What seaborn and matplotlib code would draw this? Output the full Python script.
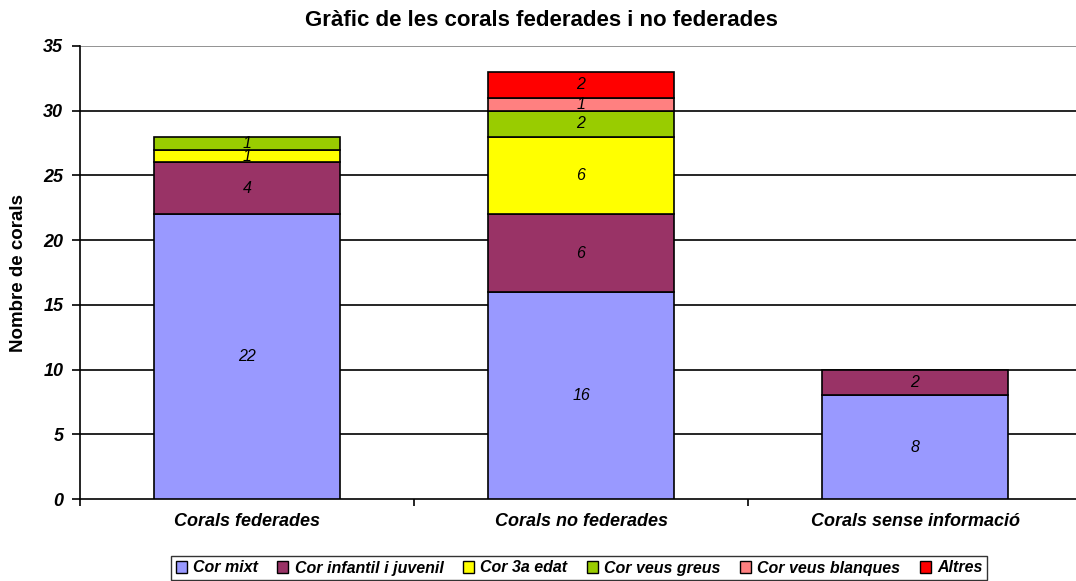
import numpy as np
import pandas as pd
import matplotlib
matplotlib.use('Agg')
import matplotlib.pyplot as plt
import seaborn as sns
from matplotlib.patches import Patch

categories = ['Corals federades', 'Corals no federades', 'Corals sense informació']
series_names = ['Cor mixt', 'Cor infantil i juvenil', 'Cor 3a edat',
                'Cor veus greus', 'Cor veus blanques', 'Altres']
cor_mixt = [22, 16, 8]
cor_infantil = [4, 6, 2]
cor_3a_edat = [1, 6, 0]
cor_veus_greus = [1, 2, 0]
cor_veus_blanques = [0, 1, 0]
altres = [0, 2, 0]
colors = ['#9999FF', '#993366', '#FFFF00', '#99CC00', '#FF8080', '#FF0000']
y_ticks = [0, 5, 10, 15, 20, 25, 30, 35]

series = [cor_mixt, cor_infantil, cor_3a_edat, cor_veus_greus, cor_veus_blanques, altres]

sns.set_theme(style='white')
plt.rcParams['font.family'] = ['Liberation Sans', 'DejaVu Sans']
plt.rcParams['text.color'] = 'black'
plt.rcParams['axes.labelcolor'] = 'black'
plt.rcParams['xtick.color'] = 'black'
plt.rcParams['ytick.color'] = 'black'

fig = plt.figure(figsize=(10.76, 5.81), dpi=100)
ax = fig.add_axes([80 / 1076, 1 - 499 / 581, 996 / 1076, 453 / 581])

bottoms = np.zeros(len(categories))
for name, vals, col in zip(series_names, series, colors):
    df = pd.DataFrame({'cat': categories, 'val': vals, 'bottom': bottoms})
    df = df[df['val'] > 0]
    sns.barplot(data=df, x='cat', y='val', order=categories, bottom=df['bottom'].values,
                color=col, saturation=1, width=0.557, edgecolor='black',
                linewidth=1.2, ax=ax, zorder=3)
    for i, v in enumerate(vals):
        if v > 0:
            ax.text(i, bottoms[i] + v / 2, str(v), ha='center', va='center',
                    fontsize=11.5, fontstyle='italic', color='black', zorder=4)
    bottoms = bottoms + np.array(vals)

ax.set_xlim(-0.5, 2.482)
ax.set_ylim(0, 35)
ax.set_yticks(y_ticks)
ax.set_yticklabels([str(t) for t in y_ticks], fontsize=13, fontweight='bold', fontstyle='italic')
for t in y_ticks[1:]:
    ax.axhline(t, color='black' if t < 35 else '#808080', linewidth=1.2, zorder=1)

ax.set_xticks([0, 1, 2])
ax.set_xticklabels(categories, fontsize=13, fontweight='bold', fontstyle='italic')
ax.set_xticks([-0.5, 0.5, 1.5], minor=True)
ax.tick_params(axis='x', which='major', length=0, pad=10)
ax.tick_params(axis='x', which='minor', length=5, width=1.2, color='black', direction='out', bottom=True)
ax.tick_params(axis='y', length=6, width=1.2, color='black', direction='out', left=True, pad=6)

ax.set_xlabel('')
ax.set_ylabel('Nombre de corals', fontsize=13.5, fontweight='bold', labelpad=12)
for s in ['top', 'right']:
    ax.spines[s].set_visible(False)
ax.spines['left'].set_color('black')
ax.spines['left'].set_linewidth(1.2)
ax.spines['bottom'].set_color('black')
ax.spines['bottom'].set_linewidth(1.2)

fig.text(541 / 1076, 1 - 20 / 581, 'Gràfic de les corals federades i no federades',
         ha='center', va='center', fontsize=16, fontweight='bold')

handles = [Patch(facecolor=c, edgecolor='black', linewidth=1) for c in colors]
leg = fig.legend(handles, series_names, loc='center', bbox_to_anchor=(579 / 1076, 1 - 568 / 581),
                 ncol=6, frameon=True, fancybox=False, handlelength=0.7, handleheight=0.7,
                 handletextpad=0.4, columnspacing=1.2, borderpad=0.3,
                 prop={'weight': 'bold', 'style': 'italic', 'size': 11.5})
leg.get_frame().set_edgecolor('black')
leg.get_frame().set_linewidth(1)

fig.savefig('out.png', dpi=100)
